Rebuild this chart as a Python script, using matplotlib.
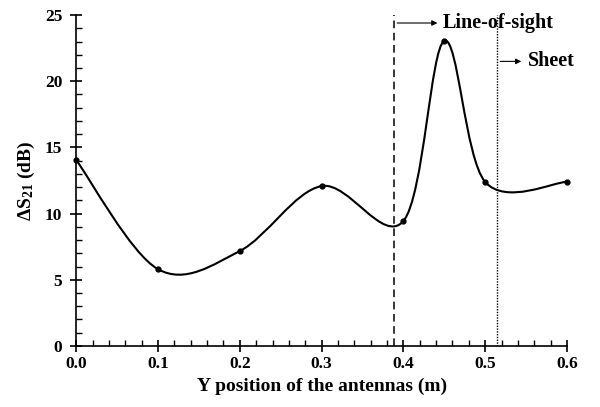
import numpy as np
import matplotlib.pyplot as plt
from matplotlib.path import Path
from matplotlib.patches import PathPatch
from matplotlib.ticker import MultipleLocator

plt.rcParams['font.family'] = ['Liberation Serif', 'DejaVu Serif']
plt.rcParams['font.weight'] = 'bold'
plt.rcParams['mathtext.fontset'] = 'custom'
plt.rcParams['mathtext.rm'] = 'Liberation Serif:bold'
plt.rcParams['mathtext.it'] = 'Liberation Serif:bold'
plt.rcParams['mathtext.bf'] = 'Liberation Serif:bold'
plt.rcParams['mathtext.default'] = 'rm'

# data
y_pos = [0.0, 0.1, 0.2, 0.3, 0.4, 0.45, 0.5, 0.6]
delta_s21 = [14.05, 5.8, 7.17, 12.08, 9.44, 23.05, 12.39, 12.4]
los_x = 0.389
sheet_x = 0.515

fig = plt.figure(figsize=(6.0, 4.07), dpi=100)
ax = fig.add_axes([0.127, 0.150, 0.818, 0.813])

# smoothed line like a spreadsheet chart (cubic bezier through the points)
pts = np.column_stack([y_pos, delta_s21])
n = len(pts)
verts = [pts[0]]
codes = [Path.MOVETO]
for i in range(n - 1):
    p_prev = pts[max(i - 1, 0)]
    p0 = pts[i]
    p1 = pts[i + 1]
    p_next = pts[min(i + 2, n - 1)]
    c1 = p0 + (p1 - p_prev) / 6
    c2 = p1 - (p_next - p0) / 6
    verts += [c1, c2, p1]
    codes += [Path.CURVE4] * 3
curve = PathPatch(Path(verts, codes), facecolor='none', edgecolor='black', lw=1.5)
ax.add_patch(curve)
ax.plot(y_pos, delta_s21, 'o', color='black', markersize=3.5, clip_on=False, zorder=3)

ax.axvline(los_x, color='black', lw=1.1, ls=(0, (5, 3)))
ax.axvline(sheet_x, color='black', lw=1.0, ls=(0, (1, 1)))

ax.annotate('', xy=(0.445, 24.4), xytext=(los_x, 24.4),
            arrowprops=dict(arrowstyle='-|>', color='black', lw=0.8, mutation_scale=8))
ax.text(0.448, 24.4, 'Line-of-sight', fontsize=14.5, fontweight='bold', va='center', ha='left')
ax.annotate('', xy=(0.5475, 21.5), xytext=(sheet_x, 21.5),
            arrowprops=dict(arrowstyle='-|>', color='black', lw=0.8, mutation_scale=8))
ax.text(0.5525, 21.5, 'Sheet', fontsize=14.5, fontweight='bold', va='center', ha='left')

ax.set_xlim(0, 0.6)
ax.set_ylim(0, 25)
ax.xaxis.set_major_locator(MultipleLocator(0.1))
ax.xaxis.set_minor_locator(MultipleLocator(0.02))
ax.yaxis.set_major_locator(MultipleLocator(5))
ax.yaxis.set_minor_locator(MultipleLocator(1))
ax.xaxis.set_major_formatter(plt.FormatStrFormatter('%.1f'))

for s in ['top', 'right']:
    ax.spines[s].set_visible(False)
for s in ['left', 'bottom']:
    ax.spines[s].set_linewidth(1.2)
ax.tick_params(which='major', direction='inout', length=8, width=1.2, labelsize=12.5)
ax.tick_params(which='major', axis='y', pad=6)
ax.tick_params(which='minor', direction='in', length=4, width=1.0)

ax.set_xlabel('Y position of the antennas (m)', fontsize=14, fontweight='bold', labelpad=4)
ax.set_ylabel('ΔS$_{21}$ (dB)', fontsize=14, fontweight='bold', labelpad=6)

fig.savefig('out.png', dpi=100)
